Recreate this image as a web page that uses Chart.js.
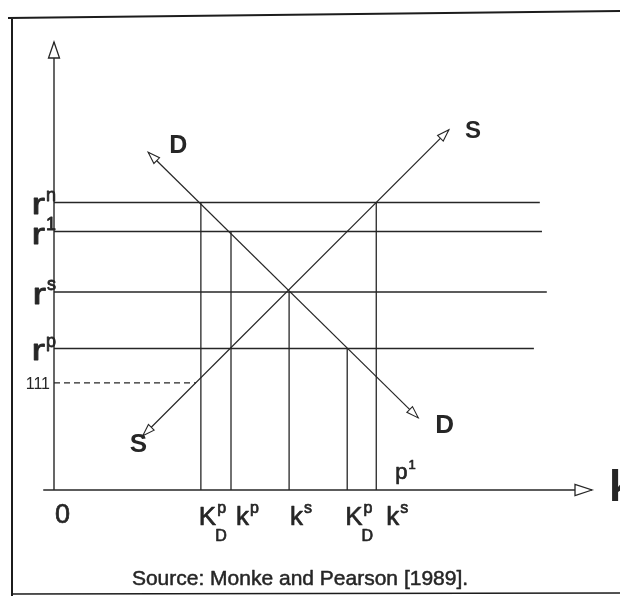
<!DOCTYPE html>
<html lang="en">
  <head>
    <meta charset="UTF-8" />
    <title>Capital market: rates and stocks</title>
    <script src="https://cdn.jsdelivr.net/npm/chart.js@4.4.0/dist/chart.umd.min.js"></script>
    <style>
      body { margin: 0; background: #fff; }
      canvas { display: block; }
    </style>
  </head>
  <body>
    <canvas id="myChart" width="620" height="596"></canvas>
    <script>
      /*** values below ***/
      // interest rate levels (r^n, r^1, r^s, r^p) and where each line stops
      const rateNames = ["n", "1", "s", "p"];
      const rateLevels = [64.2, 57.7, 44.2, 31.6];
      const rateLineEnds = [90.3, 90.7, 91.6, 89.2];

      // demand and supply schedules, start and end points
      const demandK = [17.5, 67.7];
      const demandR = [75.4, 16.1];
      const supplyK = [16.5, 73.4];
      const supplyR = [12.1, 80.4];

      // capital stock markers on the k axis
      const stockK = [27.3, 32.9, 43.7, 54.5, 59.9];
      const stockTop = [64.2, 57.7, 44.2, 31.6, 64.2];
      const stockBase = ["K", "k", "k", "K", "k"];
      const stockSup = ["p", "p", "s", "p", "s"];
      const stockSub = ["D", "", "", "D", ""];

      // dashed floor rate
      const floorRate = 23.9;
      const floorEnd = 26.4;
      const floorLabel = "111";
      /*** values above ***/

      const FONT = '"Liberation Sans", Arial, Helvetica, sans-serif';
      const INK = "#262626";

      function seg(x0, y0, x1, y1, extra) {
        return Object.assign(
          {
            data: [
              { x: x0, y: y0 },
              { x: x1, y: y1 },
            ],
            showLine: true,
            borderColor: INK,
            borderWidth: 1.4,
            pointRadius: 0,
            clip: false,
          },
          extra || {}
        );
      }

      const datasets = [];
      // axes
      datasets.push(seg(-2, 0, 100, 0, { borderWidth: 1.6 }));
      datasets.push(seg(0, 0, 0, 100, { borderWidth: 1.4 }));
      // rate lines
      rateLevels.forEach((r, i) => datasets.push(seg(0, r, rateLineEnds[i], r, { borderWidth: 1.5 })));
      // floor rate, dashed
      datasets.push(seg(0, floorRate, floorEnd, floorRate, { borderDash: [6, 4], borderWidth: 1.2 }));
      // stock markers
      stockK.forEach((k, i) => datasets.push(seg(k, 0, k, stockTop[i], { borderWidth: 1.3 })));
      // demand and supply
      datasets.push(seg(demandK[0], demandR[0], demandK[1], demandR[1], { borderWidth: 1.2 }));
      datasets.push(seg(supplyK[0], supplyR[0], supplyK[1], supplyR[1], { borderWidth: 1.2 }));

      // text with a thin outline so it reads as heavy as the print
      function txt(ctx, s, x, y, font, outline) {
        if (font) ctx.font = font;
        ctx.fillText(s, x, y);
        if (outline !== false) ctx.strokeText(s, x, y);
      }

      // a letter with optional super/subscript; sx widens the base letter
      function sym(ctx, x, y, base, sup, sub, size, align, sx) {
        sx = sx || 1;
        ctx.font = size + "px " + FONT;
        const w = ctx.measureText(base).width * sx;
        const small = Math.round(size * 0.6);
        ctx.font = small + "px " + FONT;
        const ws = sup ? ctx.measureText(sup).width : 0;
        const wb = sub ? ctx.measureText(sub).width : 0;
        const total = w + Math.max(ws, wb);
        const x0 = align === "right" ? x - total : x;
        ctx.textAlign = "left";
        ctx.textBaseline = "alphabetic";
        ctx.save();
        ctx.translate(x0, y);
        ctx.scale(sx, 1);
        txt(ctx, base, 0, 0, size + "px " + FONT);
        ctx.restore();
        ctx.font = small + "px " + FONT;
        if (sup) txt(ctx, sup, x0 + w + 1, y - size * 0.45);
        if (sub) txt(ctx, sub, x0 + w - 1, y + size * 0.62);
      }

      // hollow arrow head with its tip at (tx, ty), pointing away from (fx, fy)
      function arrow(ctx, fx, fy, tx, ty, len, half) {
        const a = Math.atan2(ty - fy, tx - fx);
        const bx = tx - len * Math.cos(a);
        const by = ty - len * Math.sin(a);
        const nx = -Math.sin(a) * half;
        const ny = Math.cos(a) * half;
        ctx.beginPath();
        ctx.moveTo(tx, ty);
        ctx.lineTo(bx + nx, by + ny);
        ctx.lineTo(bx - nx, by - ny);
        ctx.closePath();
        ctx.fillStyle = "#fff";
        ctx.fill();
        ctx.stroke();
      }

      const decor = {
        id: "decor",
        beforeDraw(chart) {
          const ctx = chart.ctx;
          ctx.save();
          ctx.fillStyle = "#fff";
          ctx.fillRect(0, 0, chart.width, chart.height);
          ctx.restore();
        },
        afterDatasetsDraw(chart) {
          const ctx = chart.ctx;
          const xs = chart.scales.x;
          const ys = chart.scales.y;
          const px = (v) => xs.getPixelForValue(v);
          const py = (v) => ys.getPixelForValue(v);
          ctx.save();
          ctx.strokeStyle = INK;
          ctx.lineWidth = 1.3;
          ctx.lineJoin = "miter";

          // axis arrows
          arrow(ctx, px(0), py(0), px(0), py(100), 16, 5.5);
          arrow(ctx, px(0), py(0), px(100), py(0), 17, 5.5);
          // schedule arrows at both ends
          ctx.lineWidth = 1.1;
          arrow(ctx, px(demandK[1]), py(demandR[1]), px(demandK[0]), py(demandR[0]), 12, 4);
          arrow(ctx, px(demandK[0]), py(demandR[0]), px(demandK[1]), py(demandR[1]), 12, 4);
          arrow(ctx, px(supplyK[1]), py(supplyR[1]), px(supplyK[0]), py(supplyR[0]), 12, 4);
          arrow(ctx, px(supplyK[0]), py(supplyR[0]), px(supplyK[1]), py(supplyR[1]), 12, 4);

          ctx.fillStyle = INK;
          ctx.lineWidth = 0.8;
          ctx.lineJoin = "round";
          // rate labels
          rateLevels.forEach((r, i) =>
            sym(ctx, px(0) + 1, py(r) + 12, "r", rateNames[i], "", 30, "right", 1.35)
          );
          ctx.textAlign = "right";
          txt(ctx, floorLabel, px(0) - 4, py(floorRate) + 6, "16px " + FONT, false);

          // origin and stock labels
          ctx.lineWidth = 0.7;
          ctx.textAlign = "left";
          txt(ctx, "0", px(0) + 1, py(0) + 33, "27px " + FONT);
          const shift = [-2, 5, 1, -2, 10];
          stockK.forEach((k, i) =>
            sym(ctx, px(k) + shift[i], py(0) + 35, stockBase[i], stockSup[i], stockSub[i], 26, "left")
          );
          sym(ctx, px(stockK[4]) + 19, py(0) - 11, "p", "1", "", 22, "left");

          // schedule names
          ctx.textAlign = "left";
          txt(ctx, "D", px(demandK[0]) + 21, py(demandR[0]) + 1, "bold 25px " + FONT, false);
          txt(ctx, "S", px(supplyK[1]) + 16, py(supplyR[1]) + 8, "bold 24px " + FONT, false);
          txt(ctx, "D", px(demandK[1]) + 17, py(demandR[1]) + 15, "bold 26px " + FONT, false);
          txt(ctx, "S", px(supplyK[0]) - 13, py(supplyR[0]) + 16, "bold 26px " + FONT, false);

          // axis name
          txt(ctx, "k", px(100) + 17, py(0) + 11, "bold 44px " + FONT, false);

          // source line
          ctx.textAlign = "center";
          ctx.lineWidth = 0.5;
          txt(ctx, "Source: Monke and Pearson [1989].", 300, 585, "21px " + FONT);

          // frame
          ctx.lineWidth = 2;
          ctx.strokeStyle = "#1c1c1c";
          ctx.beginPath();
          ctx.moveTo(12, 596);
          ctx.lineTo(12, 17);
          ctx.moveTo(8, 18);
          ctx.lineTo(620, 11);
          ctx.stroke();
          ctx.lineWidth = 1.4;
          ctx.beginPath();
          ctx.moveTo(12, 594);
          ctx.lineTo(620, 593);
          ctx.stroke();
          ctx.restore();
        },
      };

      const ctx = document.getElementById("myChart").getContext("2d");
      const chart = new Chart(ctx, {
        type: "scatter",
        data: { datasets: datasets },
        options: {
          responsive: false,
          animation: false,
          layout: { padding: { left: 43.24, right: 28, top: 42, bottom: 106 } },
          scales: {
            x: { type: "linear", min: -2, max: 100, display: false },
            y: { type: "linear", min: 0, max: 100, display: false },
          },
          plugins: { legend: { display: false }, tooltip: { enabled: false } },
        },
        plugins: [decor],
      });
    </script>
  </body>
</html>
